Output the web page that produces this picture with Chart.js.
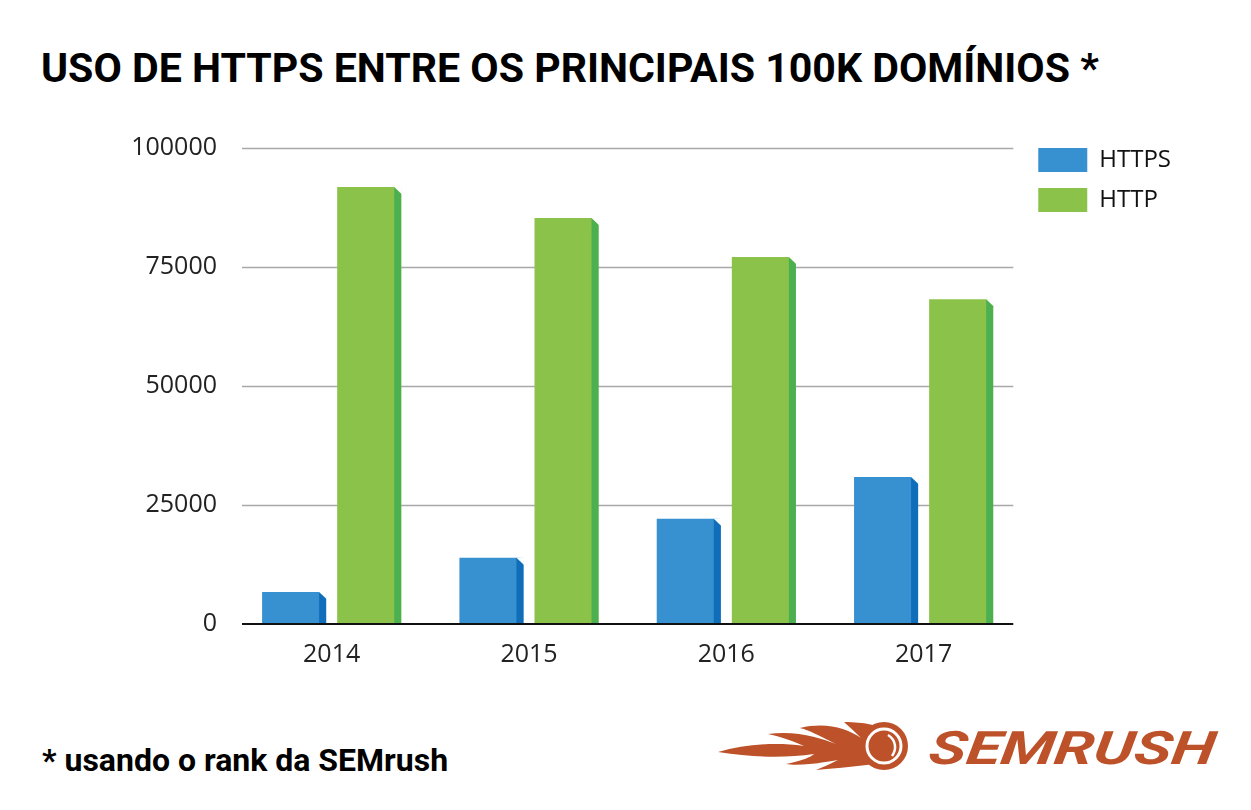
<!DOCTYPE html>
<html><head><meta charset="utf-8">
<script src="https://cdn.jsdelivr.net/npm/chart.js@4.4.1/dist/chart.umd.min.js"></script>
<style>
html,body{margin:0;padding:0;background:#fff;}
body{width:1251px;height:810px;overflow:hidden;position:relative;font-family:Roboto,sans-serif;}
#title{position:absolute;left:41px;top:47px;font:700 41.1px Roboto;line-height:42px;color:#000;white-space:nowrap;}
#wrap{position:absolute;left:0;top:115px;width:1251px;height:563px;}
#foot{position:absolute;left:42px;top:742px;font:700 32px Roboto;line-height:36px;color:#000;white-space:nowrap;}
#logo{position:absolute;left:716px;top:716px;}
</style></head>
<body>
<div id="title">USO DE HTTPS ENTRE OS PRINCIPAIS 100K DOMÍNIOS *</div>
<div id="wrap"><canvas id="c"></canvas></div>
<div id="foot">* usando o rank da SEMrush</div>
<svg id="logo" width="510" height="64" viewBox="0 0 510 64">
  <g fill="#bd5129">
    <path d="M2 36 C30 28 60 26 88 30 C70 22 60 20 52 18 C80 14 105 22 120 28 C100 18 92 14 84 12 C110 6 130 12 145 22 C135 12 130 8 128 6 C150 6 160 10 168 12 L168 46 C150 50 120 52 100 54 C110 50 118 46 122 44 C100 48 80 50 70 48 C90 44 96 40 98 38 C70 42 40 42 2 36 Z"/>
    <circle cx="168" cy="30" r="24"/>
  </g>
  <circle cx="168" cy="30" r="17" fill="none" stroke="#fff" stroke-width="3"/>
  <path d="M172 19 C180 24 181 33 176 40" fill="none" stroke="#fff" stroke-width="2.5"/>
  <text x="212" y="48" font-family="Roboto" font-weight="700" font-style="italic" font-size="46" fill="#bd5129" textLength="286" lengthAdjust="spacingAndGlyphs" transform="skewX(-8) translate(6,0)">SEMRUSH</text>
</svg>
<script>
// ---- data ----
const categories = ['2014', '2015', '2016', '2017'];
const seriesNames = ['HTTPS', 'HTTP'];
const httpsValues = [6700, 13900, 22100, 30900];
const httpValues = [91800, 85300, 77100, 68200];
const yTickValues = [0, 25000, 50000, 75000, 100000];

// ---- styles ----
const frontColors = ['#3790d0', '#8bc34a'];
const sideColors = ['#106db9', '#4caf50'];
const tickFont = {family: "'Open Sans'", size: 25, lineHeight: 32 / 25};

const gridPlugin = {
  id: 'gridPlugin',
  beforeDatasetsDraw(chart) {
    const ctx = chart.ctx, ys = chart.scales.y, {left, right} = chart.chartArea;
    ctx.save();
    ctx.strokeStyle = '#a8a8a8';
    ctx.lineWidth = 1.5;
    yTickValues.forEach(v => {
      if (v === 0) return;
      const py = Math.round(ys.getPixelForValue(v)) + 0.5;
      ctx.beginPath(); ctx.moveTo(left + 9, py); ctx.lineTo(right - 9, py); ctx.stroke();
    });
    ctx.restore();
  },
  afterDatasetsDraw(chart) {
    const ctx = chart.ctx, ys = chart.scales.y, {left, right} = chart.chartArea;
    ctx.save();
    chart.data.datasets.forEach((ds, i) => {
      const meta = chart.getDatasetMeta(i);
      meta.data.forEach(bar => {
        const p = bar.getProps(['x', 'y', 'base', 'width'], true);
        const r = p.x + p.width / 2, d = 7;
        ctx.fillStyle = sideColors[i];
        ctx.beginPath();
        ctx.moveTo(r - d, p.y); ctx.lineTo(r, p.y + d); ctx.lineTo(r, p.base); ctx.lineTo(r - d, p.base);
        ctx.closePath(); ctx.fill();
        ctx.fillStyle = '#ffffff';
        ctx.beginPath();
        ctx.moveTo(r - d, p.y); ctx.lineTo(r + 0.5, p.y - 0.5); ctx.lineTo(r + 0.5, p.y + d);
        ctx.closePath(); ctx.fill();
      });
    });
    const py = ys.getPixelForValue(0);
    ctx.strokeStyle = '#111';
    ctx.lineWidth = 2;
    ctx.beginPath(); ctx.moveTo(left + 9, py); ctx.lineTo(right - 9, py); ctx.stroke();
    ctx.restore();
  }
};

new Chart(document.getElementById('c'), {
  type: 'bar',
  data: {
    labels: categories,
    datasets: [
      {label: seriesNames[0], data: httpsValues, backgroundColor: frontColors[0], borderWidth: 0},
      {label: seriesNames[1], data: httpValues, backgroundColor: frontColors[1], borderWidth: 0}
    ]
  },
  options: {
    responsive: true,
    maintainAspectRatio: false,
    animation: false,
    categoryPercentage: 0.761,
    barPercentage: 0.853,
    layout: {padding: {left: 0, right: 70, top: 17, bottom: 0}},
    plugins: {
      legend: {
        position: 'right',
        align: 'start',
        labels: {boxWidth: 49, boxHeight: 24, padding: 16, color: '#111', font: {family: "'Open Sans'", size: 24}}
      },
      tooltip: {enabled: false}
    },
    scales: {
      x: {
        grid: {display: false},
        border: {display: false},
        ticks: {color: '#222', font: tickFont, padding: 7}
      },
      y: {
        min: 0, max: 100000,
        afterBuildTicks(scale) { scale.ticks = yTickValues.map(v => ({value: v})); },
        afterFit(scale) { scale.width = 233; scale.paddingTop = 33; },
        grid: {display: false},
        border: {display: false},
        ticks: {color: '#222', font: tickFont, padding: 8, callback: v => String(v)}
      }
    }
  },
  plugins: [gridPlugin]
});
</script>
</body></html>
